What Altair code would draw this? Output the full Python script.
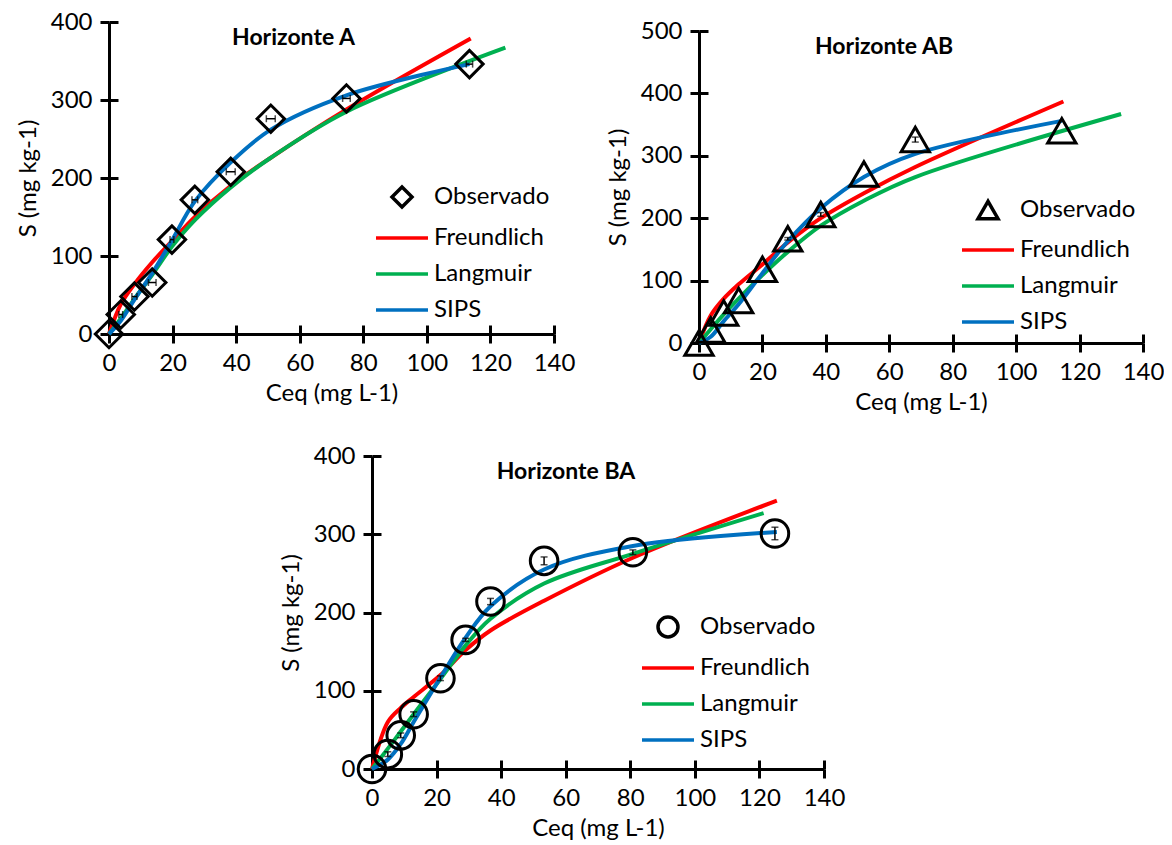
import altair as alt
import pandas as pd

SERIES = ["Observado", "Freundlich", "Langmuir", "SIPS"]
COLORS = ["#000000", "#FF0000", "#00B050", "#0070C0"]
LINE_SHAPE = "M-2.6,0L2.6,0"

# ---------------- Horizonte A ----------------
A_obs_x = [0, 3.7, 8.0, 13.6, 19.8, 27.0, 38.3, 50.9, 74.7, 113.4]
A_obs_y = [0, 25, 48, 66, 121, 172, 208, 276, 302, 346]
A_xerr = [0, 0.6, 0.8, 1.2, 0.6, 0.9, 1.4, 1.4, 1.2, 1.0]
A_yerr = [0, 0, 0, 0, 0, 0, 0, 0, 0, 0]
A_fr_x = [0, 3.7, 8.0, 13.6, 19.8, 27.0, 38.3, 50.9, 74.7, 113.8]
A_fr_y = [0, 38, 64, 92, 119, 150, 190, 226, 288, 379]
A_la_x = [0, 3.7, 8.0, 13.6, 19.8, 27.0, 38.3, 50.9, 74.7, 124.7]
A_la_y = [0, 20, 45, 76, 112, 146, 188, 226, 285, 367]
A_si_x = [0, 3.7, 8.0, 13.6, 19.8, 27.0, 38.3, 50.9, 74.7, 113.4]
A_si_y = [0, 17, 44, 78, 120, 170, 220, 262, 306, 346]

# ---------------- Horizonte AB ----------------
AB_obs_x = [0, 3.7, 7.8, 12.5, 20.0, 28.0, 38.4, 52.0, 68.2, 114.4]
AB_obs_y = [0, 21, 48, 68, 118, 167, 206, 271, 326, 340]
AB_xerr = [0, 0, 0, 0, 0, 0, 0, 0, 0, 0]
AB_yerr = [0, 0, 0, 0, 0, 2, 3, 0, 4, 0]
AB_fr_x = [0, 3.7, 7.8, 12.5, 20.0, 28.0, 38.4, 52.0, 68.2, 114.9]
AB_fr_y = [0, 44, 71, 94, 126, 161, 200, 240, 282, 387]
AB_la_x = [0, 3.7, 7.8, 12.5, 20.0, 28.0, 38.4, 52.0, 68.2, 133.1]
AB_la_y = [0, 22, 46, 71, 109, 146, 188, 228, 266, 367]
AB_si_x = [0, 3.7, 7.8, 12.5, 20.0, 28.0, 38.4, 52.0, 68.2, 114.4]
AB_si_y = [0, 10, 35, 62, 112, 163, 216, 266, 303, 356]

# ---------------- Horizonte BA ----------------
BA_obs_x = [0, 4.9, 8.9, 12.9, 21.2, 29.0, 36.7, 53.3, 80.8, 124.8]
BA_obs_y = [0, 19, 43, 70, 116, 165, 214, 266, 277, 301]
BA_xerr = [0, 0, 0, 0, 0, 0, 0, 0, 0, 0]
BA_yerr = [0, 3, 3, 3, 3, 2, 4, 5, 3, 8]
BA_fr_x = [0, 4.9, 8.9, 12.9, 21.2, 29.0, 36.7, 53.3, 80.8, 125.4]
BA_fr_y = [0, 60, 78, 92, 120, 152, 177, 215, 270, 343]
BA_la_x = [0, 4.9, 8.9, 12.9, 21.2, 29.0, 36.7, 53.3, 80.8, 121.3]
BA_la_y = [0, 26, 48, 70, 115, 158, 192, 237, 275, 327]
BA_si_x = [0, 4.9, 8.9, 12.9, 21.2, 29.0, 36.7, 53.3, 80.8, 125.4]
BA_si_y = [0, 12, 32, 60, 117, 168, 208, 255, 285, 303]

X_TICKS = [0, 20, 40, 60, 80, 100, 120, 140]

FONT = "Lato"
FS = 24


def panel(title, title_dx, title_off, ymax, shape, msize,
          obs_x, obs_y, xerr, yerr, fr_x, fr_y, la_x, la_y, si_x, si_y,
          lx, ly, w, h):
    lines = pd.DataFrame({
        "Ceq": fr_x + la_x + si_x,
        "S": fr_y + la_y + si_y,
        "serie": ["Freundlich"] * len(fr_x) + ["Langmuir"] * len(la_x) + ["SIPS"] * len(si_x),
    })
    obs = pd.DataFrame({"Ceq": obs_x, "S": obs_y, "xerr": xerr, "yerr": yerr})
    obs["serie"] = "Observado"
    obs["xlo"] = obs["Ceq"] - obs["xerr"]
    obs["xhi"] = obs["Ceq"] + obs["xerr"]
    obs["ylo"] = obs["S"] - obs["yerr"]
    obs["yhi"] = obs["S"] + obs["yerr"]

    y_ticks = list(range(0, ymax + 1, 100))
    xs = alt.Scale(domain=[0, 140], nice=False)
    ys = alt.Scale(domain=[0, ymax], nice=False)
    cs = alt.Scale(domain=SERIES, range=COLORS)
    ss = alt.Scale(domain=SERIES, range=[shape] + [LINE_SHAPE] * 3)
    leg = alt.Legend(title=None, orient="none", legendX=lx, legendY=ly,
                     labelFont=FONT, labelFontSize=FS, labelColor="black",
                     symbolSize=400, symbolStrokeWidth=3.5, labelOffset=20,
                     rowPadding=12, padding=0, symbolFillColor="transparent")
    common = dict(domainColor="black", domainWidth=3, tickColor="black", tickWidth=3,
                  tickSize=9, labelFont=FONT, labelFontSize=FS, labelColor="black",
                  titleFont=FONT, titleFontSize=FS, titleFontWeight="normal",
                  titleColor="black", grid=False, labelFlush=False)
    xaxis = alt.Axis(values=X_TICKS, labelPadding=8, titlePadding=6, **common)
    yaxis = alt.Axis(values=y_ticks, labelPadding=8, titlePadding=10, **common)
    inner_common = dict(domain=False, labels=False, tickColor="black", tickWidth=3,
                        tickSize=9, grid=False, title=None)
    x_in = alt.Axis(orient="top", offset=-h, values=X_TICKS, **inner_common)
    y_in = alt.Axis(orient="right", offset=-w, values=y_ticks, **inner_common)

    line_layer = alt.Chart(lines).mark_line(
        interpolate="catmull-rom", strokeWidth=4
    ).encode(
        x=alt.X("Ceq:Q", scale=xs, axis=xaxis, title="Ceq (mg L-1)"),
        y=alt.Y("S:Q", scale=ys, axis=yaxis, title="S (mg kg-1)"),
        color=alt.Color("serie:N", scale=cs, legend=leg),
    )
    inner_layer = alt.Chart(lines).mark_line(opacity=0).encode(
        x=alt.X("Ceq:Q", scale=xs, axis=x_in),
        y=alt.Y("S:Q", scale=ys, axis=y_in),
    )
    layers = [line_layer, inner_layer]

    ex = obs[obs["xerr"] > 0]
    if len(ex):
        layers.append(alt.Chart(ex).mark_rule(color="black", strokeWidth=1.5).encode(
            x=alt.X("xlo:Q", scale=xs, axis=None), x2="xhi:Q",
            y=alt.Y("S:Q", scale=ys, axis=None)))
        for f in ["xlo", "xhi"]:
            layers.append(alt.Chart(ex).mark_tick(color="black", orient="vertical",
                                                  size=7, thickness=1.5).encode(
                x=alt.X(f + ":Q", scale=xs, axis=None),
                y=alt.Y("S:Q", scale=ys, axis=None)))
    ey = obs[obs["yerr"] > 0]
    if len(ey):
        layers.append(alt.Chart(ey).mark_rule(color="black", strokeWidth=1.5).encode(
            x=alt.X("Ceq:Q", scale=xs, axis=None),
            y=alt.Y("ylo:Q", scale=ys, axis=None), y2="yhi:Q"))
        for f in ["ylo", "yhi"]:
            layers.append(alt.Chart(ey).mark_tick(color="black", orient="horizontal",
                                                  size=7, thickness=1.5).encode(
                x=alt.X("Ceq:Q", scale=xs, axis=None),
                y=alt.Y(f + ":Q", scale=ys, axis=None)))

    pts = alt.Chart(obs).mark_point(filled=False, size=msize, strokeWidth=3, opacity=1).encode(
        x=alt.X("Ceq:Q", scale=xs, axis=None),
        y=alt.Y("S:Q", scale=ys, axis=None),
        color=alt.Color("serie:N", scale=cs, legend=leg),
        shape=alt.Shape("serie:N", scale=ss, legend=leg),
    )
    layers.append(pts)

    return alt.layer(*layers).resolve_axis(x="independent", y="independent").properties(
        width=w, height=h,
        title=alt.TitleParams(text=title, font=FONT, fontSize=23, fontWeight="bold",
                              color="black", anchor="middle", dx=title_dx,
                              offset=title_off, frame="group"),
    )


A = panel("Horizonte A", -38, -40, 400, "diamond", 750,
          A_obs_x, A_obs_y, A_xerr, A_yerr, A_fr_x, A_fr_y, A_la_x, A_la_y, A_si_x, A_si_y,
          281, 163, 445, 312)
AB = panel("Horizonte AB", -37, -40, 500, "triangle-up", 800,
           AB_obs_x, AB_obs_y, AB_xerr, AB_yerr, AB_fr_x, AB_fr_y, AB_la_x, AB_la_y, AB_si_x, AB_si_y,
           277, 167, 444, 312)
BA = panel("Horizonte BA", -32, -40, 400, "circle", 760,
           BA_obs_x, BA_obs_y, BA_xerr, BA_yerr, BA_fr_x, BA_fr_y, BA_la_x, BA_la_y, BA_si_x, BA_si_y,
           284, 159, 452, 313)

spacer_df = pd.DataFrame({"v": [0]})
spacer_top = alt.Chart(spacer_df).mark_point(opacity=0, size=0, strokeWidth=0).properties(width=1, height=1)
spacer_left = alt.Chart(spacer_df).mark_point(opacity=0, size=0, strokeWidth=0).properties(width=170, height=1)

RES = dict(color="independent", shape="independent")
ab_col = alt.vconcat(spacer_top, AB, spacing=-4).resolve_scale(**RES).resolve_legend(**RES)
top = alt.hconcat(A, ab_col, spacing=31).resolve_scale(**RES).resolve_legend(**RES)
bottom = alt.hconcat(spacer_left, BA, spacing=0).resolve_scale(**RES).resolve_legend(**RES)

chart = alt.vconcat(top, bottom, spacing=30).resolve_scale(**RES).resolve_legend(**RES).configure_view(
    stroke=None
).properties(
    padding={"left": 16, "top": 10, "right": 0, "bottom": 0},
    background="white",
)

chart.save("out.html", embed_options={"renderer": "svg", "actions": False})
